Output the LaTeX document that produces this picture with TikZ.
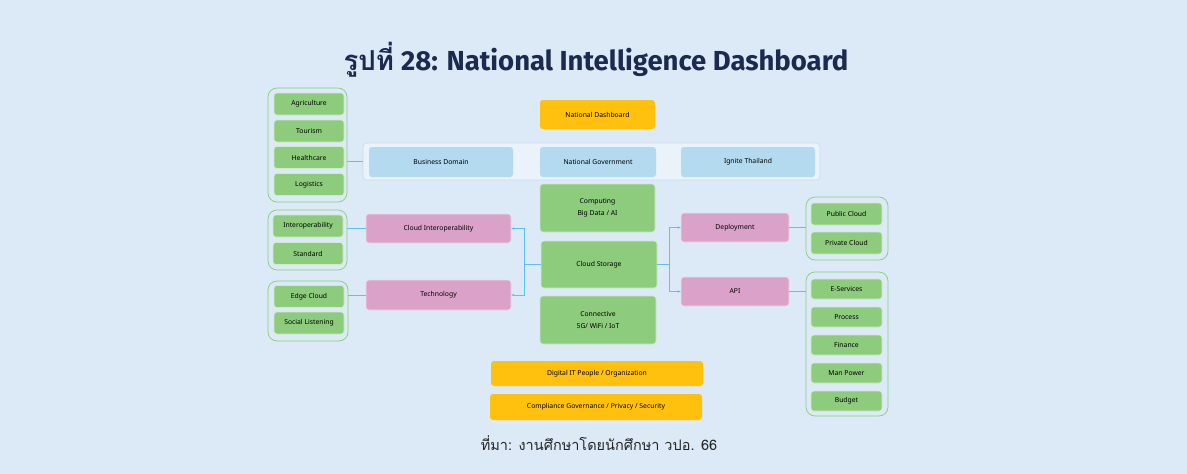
\documentclass[tikz,border=0pt]{standalone}
\usepackage{fontspec}
\setmainfont{Noto Sans}
\newfontfamily\titlefont{Fira Sans}
\newfontfamily\thaifont[Script=Thai]{Loma}
\usetikzlibrary{arrows.meta}
\definecolor{bgc}{HTML}{DCE9F6}
\definecolor{titlec}{HTML}{1B2A4E}
\definecolor{orangec}{HTML}{FFC10E}
\definecolor{bluec}{HTML}{B3DAEE}
\definecolor{greenc}{HTML}{8DCB7D}
\definecolor{pinkc}{HTML}{DAA2C8}
\definecolor{contc}{HTML}{84D07A}
\definecolor{linec}{HTML}{5EC3EC}
\definecolor{rowc}{HTML}{C8DDF0}
\tikzset{
  box/.style={rounded corners=3pt, text=black, font=\fontsize{6.8}{8.5}\selectfont, align=center, inner sep=1pt},
  obox/.style={box, fill=orangec},
  bbox/.style={box, fill=bluec},
  gbox/.style={box, fill=greenc, draw=white!60!greenc, line width=0.6pt},
  pbox/.style={box, fill=pinkc, draw=white!60!pinkc, line width=0.6pt},
  cont/.style={draw=contc, line width=0.7pt, rounded corners=9pt, inner sep=0pt},
  rowbox/.style={draw=rowc, line width=0.6pt, fill=bgc!60!white, rounded corners=4pt, inner sep=0pt},
  conn/.style={draw=linec, line width=0.6pt},
  arr/.style={conn, -{Stealth[length=3pt,width=2.5pt]}}
}
\begin{document}
\begin{tikzpicture}[x=1pt,y=-1pt]
\fill[bgc] (0,0) rectangle (1187,474);
\useasboundingbox (0,0) rectangle (1187,474);
% title
\node[text=titlec, font=\fontsize{27.5}{32}\selectfont\bfseries] (title) at (596,60) {{\thaifont รูปที่} {\titlefont 28: National Intelligence Dashboard}};
% top
\node[obox, minimum width=115, minimum height=29] (nd) at (597.5,114.5) {National Dashboard};
\node[rowbox, minimum width=457, minimum height=37] (row) at (591.5,161.5) {};
\node[bbox, minimum width=144, minimum height=30] (bd) at (441,162) {Business Domain};
\node[bbox, minimum width=116, minimum height=30] (ng) at (598,162) {National Government};
\node[bbox, minimum width=134, minimum height=30] (it) at (748,162) {Ignite Thailand};
% left group 1
\node[cont, minimum width=79, minimum height=114] (g1) at (307.5,145) {};
\node[gbox, minimum width=70, minimum height=22] (agri) at (309,104) {Agriculture};
\node[gbox, minimum width=70, minimum height=22] (tour) at (309,131) {Tourism};
\node[gbox, minimum width=70, minimum height=22] (heal) at (309,157.5) {Healthcare};
\node[gbox, minimum width=70, minimum height=22] (logi) at (309,184.5) {Logistics};
\draw[conn] (g1.east |- row.west) -- (row.west);
% center column
\node[gbox, minimum width=115, minimum height=48] (comp) at (597.5,208) {Computing\\[3pt]Big Data / AI};
\node[gbox, minimum width=116, minimum height=47] (cs) at (599,264.5) {Cloud Storage};
\node[gbox, minimum width=116, minimum height=48] (conv) at (598,320) {Connective\\[3pt]5G/ WiFi / IoT};
% left pink
\node[pbox, minimum width=145, minimum height=29] (ci) at (438.5,228.5) {Cloud Interoperability};
\node[pbox, minimum width=145, minimum height=30] (tech) at (438.5,295) {Technology};
% left group 2
\node[cont, minimum width=79, minimum height=60] (g2) at (307.5,240) {};
\node[gbox, minimum width=70, minimum height=22] (inter) at (308,226) {Interoperability};
\node[gbox, minimum width=70, minimum height=22] (std) at (308,253.5) {Standard};
% left group 3
\node[cont, minimum width=80, minimum height=60] (g3) at (308,311) {};
\node[gbox, minimum width=70, minimum height=22] (edge) at (309,296.5) {Edge Cloud};
\node[gbox, minimum width=70, minimum height=22] (social) at (309,323) {Social Listening};
\draw[conn] (g2.east |- ci.west) -- (ci.west);
\draw[conn] (g3.east |- tech.west) -- (tech.west);
% right pink
\node[pbox, minimum width=108, minimum height=29] (dep) at (735,227.5) {Deployment};
\node[pbox, minimum width=108, minimum height=29] (api) at (735,291.5) {API};
% right group deployment
\node[cont, minimum width=82, minimum height=63] (g4) at (847,228.5) {};
\node[gbox, minimum width=71, minimum height=22] (pub) at (846.5,214) {Public Cloud};
\node[gbox, minimum width=71, minimum height=22] (priv) at (846.5,243) {Private Cloud};
\draw[conn] (dep.east) -- (g4.west |- dep.east);
% api group
\node[cont, minimum width=82, minimum height=144] (g5) at (847,344) {};
\node[gbox, minimum width=71, minimum height=20] (es) at (846.5,289) {E-Services};
\node[gbox, minimum width=71, minimum height=20] (proc) at (846.5,317) {Process};
\node[gbox, minimum width=71, minimum height=20] (fin) at (846.5,345) {Finance};
\node[gbox, minimum width=71, minimum height=20] (man) at (846.5,373) {Man Power};
\node[gbox, minimum width=71, minimum height=20] (bud) at (846.5,401) {Budget};
\draw[conn] (api.east) -- (g5.west |- api.east);
% connectors from cloud storage
\coordinate (lj) at ([xshift=-16pt]cs.west);
\draw[conn] (cs.west) -- (lj);
\draw[arr] (lj) |- (ci.east);
\draw[arr] (lj) |- (tech.east);
\coordinate (rj) at ([xshift=12pt]cs.east);
\draw[conn] (cs.east) -- (rj);
\draw[arr] (rj) |- (dep.west);
\draw[arr] (rj) |- (api.west);
% bottom
\node[obox, minimum width=212, minimum height=25] (dig) at (597,373.5) {Digital IT People / Organization};
\node[obox, minimum width=212, minimum height=26] (comg) at (596,407) {Compliance Governance / Privacy / Security};
% source
\node[text=black!85, font=\thaifont\fontsize{14.5}{17}\selectfont] (src) at (599,443) {ที่มา: งานศึกษาโดยนักศึกษา วปอ. 66};
\end{tikzpicture}
\end{document}
